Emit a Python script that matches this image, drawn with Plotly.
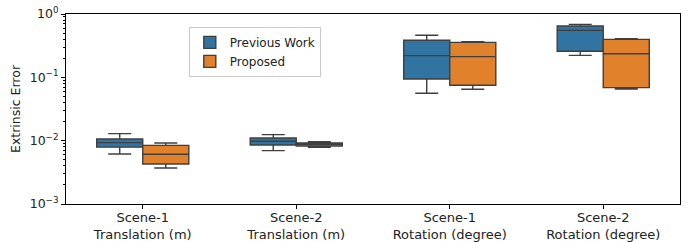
import plotly.graph_objects as go

categories = ["Scene-1<br>Translation (m)", "Scene-2<br>Translation (m)",
              "Scene-1<br>Rotation (degree)", "Scene-2<br>Rotation (degree)"]

prev_low = [0.00615, 0.00695, 0.056, 0.222]
prev_q1 = [0.0079, 0.00855, 0.0942, 0.2576]
prev_med = [0.0093, 0.00977, 0.22, 0.552]
prev_q3 = [0.0106, 0.0110, 0.385, 0.647]
prev_high = [0.0129, 0.01245, 0.461, 0.687]

prop_low = [0.0037, 0.00785, 0.0647, 0.0655]
prop_q1 = [0.00429, 0.00824, 0.0748, 0.0687]
prop_med = [0.0061, 0.00875, 0.212, 0.236]
prop_q3 = [0.00843, 0.0092, 0.357, 0.398]
prop_high = [0.0092, 0.00964, 0.365, 0.407]

y_tick_vals = [0.001, 0.01, 0.1, 1]
y_tick_text = ["10<sup>−3</sup>", "10<sup>−2</sup>", "10<sup>−1</sup>", "10<sup>0</sup>"]
y_minor_vals = [m * d for d in (0.001, 0.01, 0.1) for m in range(2, 10)]

series = [
    ("Previous Work", "#3274a1", prev_low, prev_q1, prev_med, prev_q3, prev_high),
    ("Proposed", "#e1812c", prop_low, prop_q1, prop_med, prop_q3, prop_high),
]

fig = go.Figure()
for name, color, lo, q1, med, q3, hi in series:
    fig.add_trace(go.Box(
        name=name, x=categories, q1=q1, median=med, q3=q3,
        lowerfence=lo, upperfence=hi,
        fillcolor=color, line=dict(color="#3f3f3f", width=1.4),
        whiskerwidth=0.5, boxpoints=False, hoverinfo="skip",
    ))

font = "DejaVu Sans, Verdana, sans-serif"
fig.update_layout(
    width=694, height=242,
    margin=dict(l=66, r=14, t=14, b=38),
    paper_bgcolor="white", plot_bgcolor="white",
    boxmode="group", boxgap=0.4, boxgroupgap=0,
    font=dict(family=font, size=12, color="#222"),
    showlegend=True,
    legend=dict(x=0.2, y=0.932, xanchor="left", yanchor="top",
                bgcolor="rgba(255,255,255,0.8)", bordercolor="#cccccc", borderwidth=1,
                font=dict(size=12), tracegroupgap=0),
)
fig.update_xaxes(
    showline=True, linecolor="black", linewidth=1, mirror=True,
    ticks="outside", ticklen=4, tickcolor="black", showgrid=False,
    ticklabelstandoff=-3,
    tickfont=dict(size=13, color="#222"), range=[-0.5, 3.5], automargin=False,
)
fig.update_yaxes(
    type="log", range=[-3, 0], tickmode="array",
    tickvals=y_tick_vals, ticktext=y_tick_text, ticklabeloverflow="allow",
    showline=True, linecolor="black", linewidth=1, mirror=True,
    ticks="outside", ticklen=4, tickcolor="black", showgrid=False,
    tickfont=dict(size=12.5, color="#222"),
    minor=dict(ticks="outside", ticklen=2, tickcolor="black", tickmode="array",
               tickvals=y_minor_vals, showgrid=False),
    title=dict(text="Extrinsic Error", font=dict(size=12.5, color="#222"), standoff=6),
    zeroline=False, automargin=False,
)
fig.write_html("out.html", config={"displayModeBar": False},
               post_script="document.body.style.margin='0';")
